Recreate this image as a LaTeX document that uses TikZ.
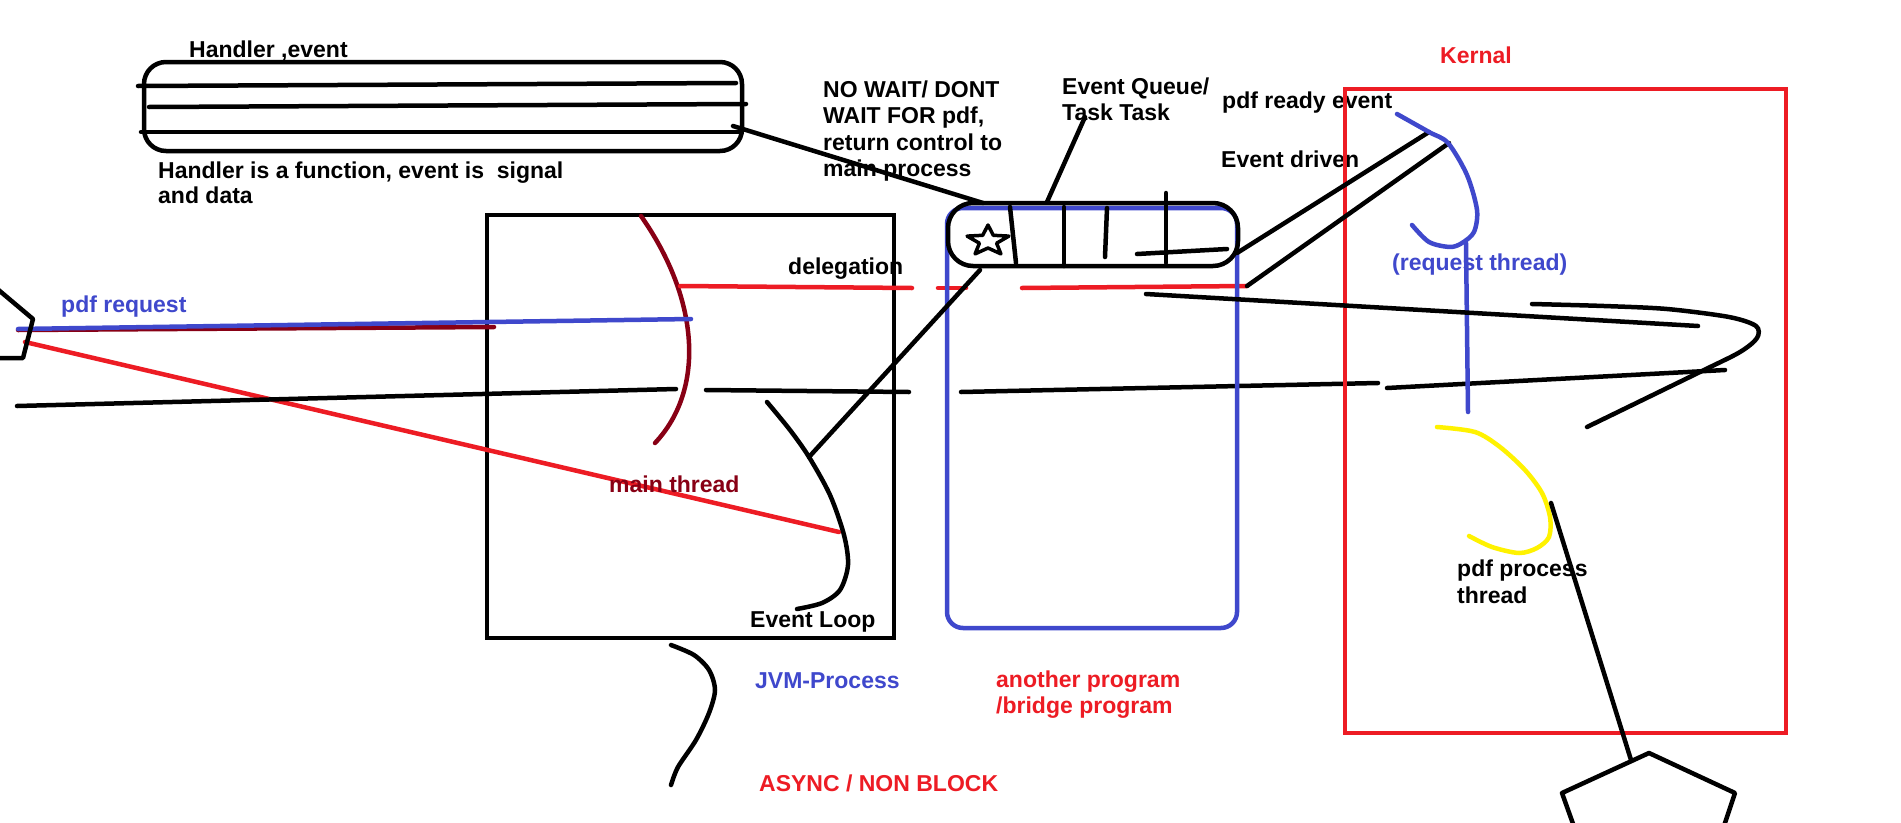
\documentclass[tikz,border=0pt]{standalone}
\usepackage{fontspec}
\setmainfont{Liberation Sans}
\definecolor{pred}{HTML}{ED1C24}
\definecolor{pdark}{HTML}{880015}
\definecolor{pblue}{HTML}{3F48CC}
\definecolor{pyellow}{HTML}{FFF200}
\tikzset{
  lbl/.style={font=\fontsize{23}{26.5}\selectfont\bfseries, inner sep=0pt, anchor=north west, align=left},
  ink/.style={line width=4.5pt, line cap=round, line join=round},
  thinink/.style={line width=3.5pt, line cap=round, line join=round},
  box/.style={draw, line width=4.5pt, inner sep=0pt},
}
\begin{document}
\begin{tikzpicture}[x=1pt,y=-1pt]
\fill[white] (0,0) rectangle (1901,822);
\useasboundingbox (0,0) rectangle (1901,822);
\clip (0,0) rectangle (1901,822);

% ---------- Handler box ----------
\node[box, rounded corners=22pt, minimum width=598pt, minimum height=89pt] (handler) at (443,106.5) {};
\draw[ink] (138,86) -- (736,83);
\draw[ink] (149,107) -- (746,104);
\draw[ink] (141,132) -- (740,132);
\coordinate (hout) at (733,126);
\node[lbl] (hev) at (189,40.4) {Handler ,event};
\node[lbl, font=\fontsize{23}{25}\selectfont\bfseries] (hdesc) at (158,161.5) {Handler is a function, event is \ signal\\and data};

% ---------- JVM process box ----------
\node[box, minimum width=407pt, minimum height=423pt] (jvm) at (690.5,426.5) {};
% main thread arc
\draw[ink, pdark] (641,216) .. controls (700,300) and (705,390) .. (655,443);
\coordinate (deleg) at (680,286);
% pdf request
\coordinate (actorA) at (18,329);
\coordinate (arcA) at (691,319);
\draw[ink, pdark] (18,330) -- (494,327);
\draw[ink, pblue] (actorA) -- (arcA);
\node[lbl, pblue] (pdfreq) at (61,295.4) {pdf request};
% red line towards event loop
\coordinate (actorB) at (25,342);
\coordinate (loopA) at (839,532);
\draw[ink, pred] (actorB) -- (loopA);
% long black line
\draw[ink] (17,406) -- (676,389);
\draw[ink] (706,390) -- (909,392);
\draw[ink] (961,392) -- (1378,383);
\draw[ink] (1387,388) -- (1725,370);
% event loop curve
\coordinate (loopB) at (809,457);
\draw[ink] plot[smooth] coordinates {(767,402) (790,430) (809,457) (830,495) (844,535) (848,565) (840,590) (822,603) (797,609)};
\node[lbl, pdark] (mainthr) at (609,475.3) {main thread};
\node[lbl] (evloop) at (750,611.3) {Event Loop};
\node[lbl] (delegtxt) at (788,257.4) {delegation};
% delegation line
\coordinate (redend) at (1247,286);
\draw[ink, pred] (deleg) -- (912,288);
\draw[ink, pred] (938,288) -- (966,288);
\draw[ink, pred] (1022,288) -- (redend);

% ---------- bridge program / queue ----------
\node[draw, pblue, line width=4.5pt, inner sep=0pt, rounded corners=16pt, minimum width=290pt, minimum height=420pt] (bridge) at (1092,418) {};
\node[box, rounded corners=25pt, minimum width=290pt, minimum height=63pt] (queue) at (1093,234.5) {};
\draw[ink] (1010,207) -- (1016,263);
\draw[ink] (1064,207) -- (1064,266);
\draw[ink] (1107,208) -- (1105,257);
\draw[ink] (1166,193) -- (1166,263);
\draw[ink] (1137,254) -- (1227,249);
\draw[thinink] (988,225) -- (993.3,235.3) -- (1008.9,236.1) -- (996.6,243.2) -- (1000.9,253.9) -- (988,248) -- (975.1,253.9) -- (979.4,243.2) -- (967.1,236.1) -- (982.7,235.3) -- cycle;
\coordinate (qstar) at (983,203);
\coordinate (qbot) at (980,270);
\coordinate (qtop) at (1047,202);
\coordinate (qright) at (1237,253);
\draw[ink] (hout) -- (qstar);
\draw[ink] (loopB) -- (qbot);
\coordinate (qlabel) at (1085,117);
\draw[ink] (qlabel) -- (qtop);
\node[lbl] (nowait) at (823,80.3) {NO WAIT/ DONT\\WAIT FOR pdf,\\return control to\\main process};
\node[lbl, font=\fontsize{23}{26}\selectfont\bfseries] (evq) at (1062,77.3) {Event Queue/\\Task Task};
\node[lbl] (pdfready) at (1222,91.3) {pdf ready event};
\node[lbl] (evdriven) at (1221,150.3) {Event driven};

% ---------- Kernel ----------
\node[draw, pred, line width=4.5pt, inner sep=0pt, minimum width=441pt, minimum height=644pt] (kernel) at (1565.5,411) {};
\node[lbl, pred] (kernaltxt) at (1440,46.3) {Kernal};
\coordinate (reqA) at (1429,132);
\coordinate (reqB) at (1449,143);
\draw[ink] (qright) -- (reqA);
\draw[ink] (redend) -- (reqB);
% request thread
\draw[ink, pblue] plot[smooth] coordinates {(1397,114) (1429,132) (1448,143) (1467,175) (1477,210) (1474,232) (1462,243) (1450,247) (1429,242) (1412,225)};
\draw[ink, pblue] (1466,243) -- (1468,412);
\node[lbl, pblue] (reqthr) at (1392,253.3) {(request thread)};
\draw[ink] (1146,294) -- (1698,326);
\draw[ink] plot[smooth] coordinates {(1532,304) (1604,306) (1667,309) (1729,317) (1756,326) (1757,338) (1740,352) (1702,371) (1587,427)};
% pdf process thread
\draw[ink, pyellow] plot[smooth] coordinates {(1437,427) (1475,432) (1500,447) (1525,470) (1542,493) (1550,517) (1549,537) (1537,548) (1519,553) (1492,547) (1469,536)};
\node[lbl, font=\fontsize{23}{27}\selectfont\bfseries] (pdfproc) at (1457,559.3) {pdf process\\thread};
\coordinate (yA) at (1551,503);
\coordinate (pentTop) at (1631,760);
\draw[ink] (yA) -- (pentTop);

% ---------- actors ----------
\draw[ink] (1577,835) -- (1562,793) -- (1649,753) -- (1735,793) -- (1721,835);
\draw[ink] (-5,287) -- (33,319) -- (23,358) -- (-5,358);

% ---------- bottom ----------
\draw[ink] plot[smooth] coordinates {(671,645) (694,655) (709,670) (715,690) (709,713) (696,740) (678,767) (671,785)};
\node[lbl, pblue] (jvmtxt) at (755,672.3) {JVM-Process};
\node[lbl, pred, font=\fontsize{23}{26}\selectfont\bfseries] (another) at (996,670.3) {another program\\/bridge program};
\node[lbl, pred] (async) at (759,774.3) {ASYNC / NON BLOCK};
\end{tikzpicture}
\end{document}
